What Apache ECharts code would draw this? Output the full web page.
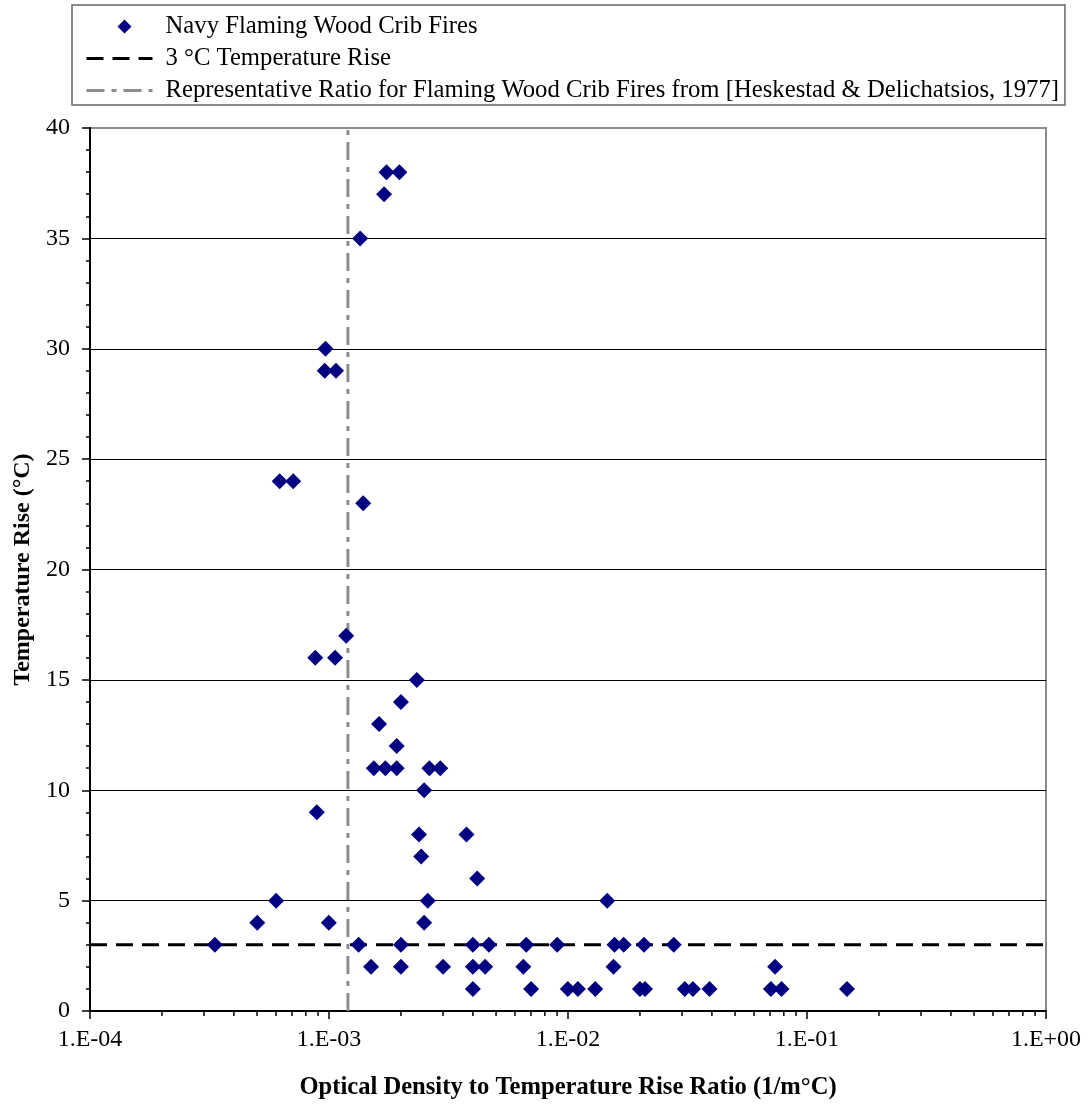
<!DOCTYPE html>
<html>
<head>
<meta charset="utf-8">
<script src="https://cdn.jsdelivr.net/npm/echarts@6/dist/echarts.min.js"></script>
<style>
html,body{margin:0;padding:0;background:#fff;}
#chart{width:1088px;height:1105px;}
</style>
</head>
<body>
<div id="chart"></div>
<script>
// ---- data ----
const ratioValues = [
  1.74e-3, 1.97e-3, 1.70e-3, 1.35e-3, 9.67e-4, 9.6e-4, 1.07e-3, 6.22e-4, 7.08e-4, 1.39e-3,
  1.18e-3, 8.76e-4, 1.06e-3, 2.33e-3, 2.0e-3, 1.62e-3, 1.92e-3, 1.54e-3, 1.72e-3, 1.92e-3,
  2.63e-3, 2.92e-3, 2.50e-3, 8.89e-4, 2.38e-3, 3.76e-3, 2.43e-3, 4.17e-3, 6.01e-4, 2.59e-3,
  1.46e-2, 5.01e-4, 9.98e-4, 2.50e-3,
  3.33e-4, 1.33e-3, 2.0e-3, 4.0e-3, 4.67e-3, 6.69e-3, 9.01e-3, 1.565e-2, 1.71e-2, 2.08e-2, 2.77e-2,
  1.50e-3, 2.0e-3, 3.0e-3, 4.0e-3, 4.50e-3, 6.50e-3, 1.55e-2, 7.35e-2,
  4.0e-3, 7.01e-3, 9.98e-3, 1.10e-2, 1.30e-2, 2.00e-2, 2.10e-2, 3.08e-2, 3.33e-2, 3.91e-2, 7.06e-2, 7.82e-2, 1.47e-1
];
const riseValues = [
  38, 38, 37, 35, 30, 29, 29, 24, 24, 23,
  17, 16, 16, 15, 14, 13, 12, 11, 11, 11,
  11, 11, 10, 9, 8, 8, 7, 6, 5, 5,
  5, 4, 4, 4,
  3, 3, 3, 3, 3, 3, 3, 3, 3, 3, 3,
  2, 2, 2, 2, 2, 2, 2, 2,
  1, 1, 1, 1, 1, 1, 1, 1, 1, 1, 1, 1, 1
];
const thresholdRise = 3;            // 3 °C temperature rise
const representativeRatio = 0.0012; // Heskestad & Delichatsios, 1977
const xMin = 1e-4, xMax = 1;
const yMin = 0, yMax = 40, yStep = 5;
const xTickLabels = ['1.E-04', '1.E-03', '1.E-02', '1.E-01', '1.E+00'];
const seriesNames = [
  'Navy Flaming Wood Crib Fires',
  '3 °C Temperature Rise',
  'Representative Ratio for Flaming Wood Crib Fires from [Heskestad & Delichatsios, 1977]'
];
const xAxisTitle = 'Optical Density to Temperature Rise Ratio (1/m°C)';
const yAxisTitle = 'Temperature Rise (°C)';

// ---- chart ----
const FONT = '"Liberation Serif", "Times New Roman", serif';
const NAVY = '#000080';
const GRAY = '#8c8c8c';
const chart = echarts.init(document.getElementById('chart'));
const gridBox = {left: 90, top: 128, width: 956, height: 883};
const threshDash = [17, 9];
const ratioDash = [18, 7, 5, 7];
// legend icon for the scatter: a diamond inside a wide (66x14) box so it is not stretched
const diamondIcon = 'path://M0,0L0.01,0L0,0.01Z M66,14L65.99,14L66,13.99Z M38,0L45,7L38,14L31,7Z';

const option = {
  animation: false,
  backgroundColor: '#fff',
  textStyle: {fontFamily: FONT},
  legend: {
    show: true,
    orient: 'vertical',
    left: 72, top: 5,
    padding: [9, 6, 2, 13],
    itemWidth: 66, itemHeight: 14, itemGap: 7,
    borderColor: '#666', borderWidth: 1.5,
    backgroundColor: '#fff',
    selectedMode: false,
    textStyle: {fontFamily: FONT, fontSize: 24.7, color: '#000', padding: [0, 0, 0, 8]},
    data: [
      {name: seriesNames[0], icon: diamondIcon, itemStyle: {color: NAVY, opacity: 1}},
      {name: seriesNames[1], itemStyle: {color: 'rgba(0,0,0,0)', borderWidth: 0},
       lineStyle: {color: '#000', width: 3, type: threshDash}},
      {name: seriesNames[2], itemStyle: {color: 'rgba(0,0,0,0)', borderWidth: 0},
       lineStyle: {color: GRAY, width: 3, type: ratioDash}}
    ]
  },
  grid: Object.assign({show: true, borderColor: GRAY, borderWidth: 2, backgroundColor: 'transparent', containLabel: false, outerBoundsMode: 'none'}, gridBox),
  xAxis: {
    type: 'log', logBase: 10, min: xMin, max: xMax,
    name: xAxisTitle, nameLocation: 'middle', nameGap: 64,
    nameTextStyle: {fontFamily: FONT, fontSize: 24.6, fontWeight: 'bold', color: '#000'},
    axisLine: {show: true, onZero: false, lineStyle: {color: '#000', width: 2}},
    axisTick: {show: true, inside: false, length: 8, lineStyle: {color: '#000', width: 1.5}},
    minorTick: {show: false},
    splitLine: {show: false},
    axisLabel: {
      show: true, margin: 17, fontFamily: FONT, fontSize: 24, color: '#000',
      showMinLabel: true, showMaxLabel: true,
      formatter: function (v) {
        const e = Math.round(Math.log10(v));
        return xTickLabels[e + 4] || '';
      }
    }
  },
  yAxis: {
    type: 'value', min: yMin, max: yMax, interval: yStep,
    name: yAxisTitle, nameLocation: 'middle', nameGap: 54,
    nameTextStyle: {fontFamily: FONT, fontSize: 24, fontWeight: 'bold', color: '#000'},
    axisLine: {show: true, onZero: false, lineStyle: {color: '#000', width: 2}},
    axisTick: {show: true, inside: false, length: 8, lineStyle: {color: '#000', width: 1.5}},
    minorTick: {show: true, splitNumber: 5, length: 4, lineStyle: {color: '#000', width: 1.5}},
    splitLine: {show: true, showMinLine: false, showMaxLine: false, lineStyle: {color: '#000', width: 1}},
    axisLabel: {show: true, margin: 20, fontFamily: FONT, fontSize: 24, color: '#000'}
  },
  series: [
    {
      name: seriesNames[0], type: 'scatter', z: 5,
      symbol: 'diamond', symbolSize: [16, 16],
      itemStyle: {color: NAVY, opacity: 1},
      data: ratioValues.map((x, i) => [x, riseValues[i]])
    },
    {
      name: seriesNames[1], type: 'line', z: 3,
      symbol: 'none', showSymbol: false, silent: true,
      lineStyle: {color: '#000', width: 3, type: threshDash},
      itemStyle: {color: '#000'},
      data: [[xMin, thresholdRise], [xMax, thresholdRise]]
    },
    {
      name: seriesNames[2], type: 'line', z: 3,
      symbol: 'none', showSymbol: false, silent: true,
      lineStyle: {color: GRAY, width: 3, type: ratioDash},
      itemStyle: {color: GRAY},
      data: [[representativeRatio, yMin], [representativeRatio, yMax]]
    }
  ]
};
chart.setOption(option);

// minor ticks of the log x axis (2..9 in each decade), placed through the axis scale
function drawMinorTicks() {
  const els = [];
  const yBottom = chart.convertToPixel({yAxisIndex: 0}, yMin);
  for (let d = Math.log10(xMin); d < Math.log10(xMax); d++) {
    for (let k = 2; k <= 9; k++) {
      const px = chart.convertToPixel({xAxisIndex: 0}, k * Math.pow(10, d));
      els.push({
        type: 'line', silent: true, z: 10,
        shape: {x1: px, y1: yBottom, x2: px, y2: yBottom + 5},
        style: {stroke: '#000', lineWidth: 1.5}
      });
    }
  }
  chart.setOption({graphic: els});
}
drawMinorTicks();
</script>
</body>
</html>
